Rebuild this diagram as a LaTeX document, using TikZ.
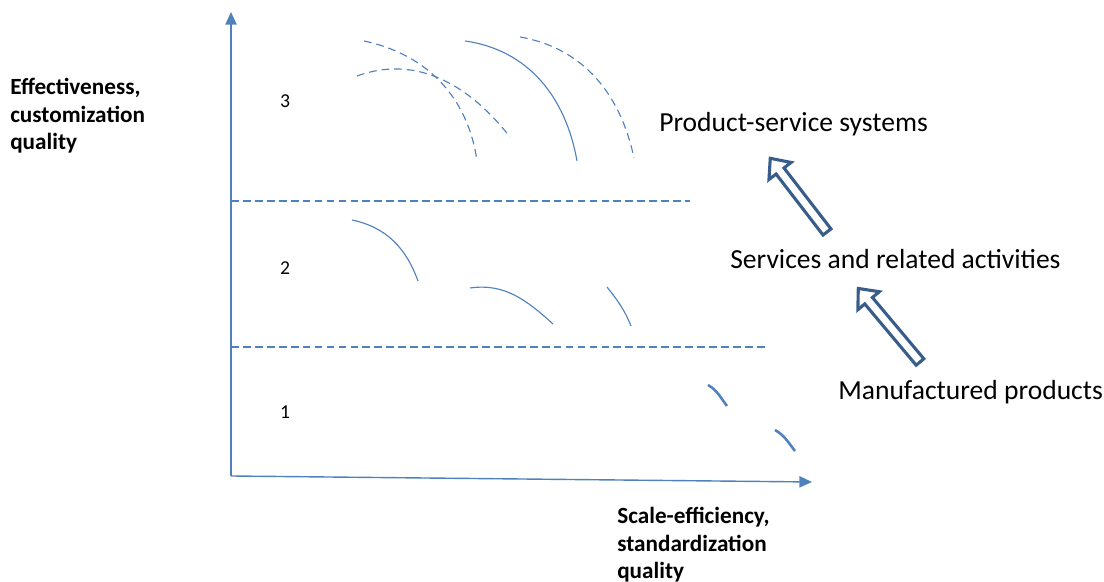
\documentclass[tikz,border=0pt]{standalone}
\usepackage{fontspec}
\setmainfont{Carlito}
\usetikzlibrary{arrows.meta}

\definecolor{lineblue}{RGB}{79,129,189}
\definecolor{arrowblue}{RGB}{56,93,138}

\tikzset{
    axis/.style={line width=1pt, draw=lineblue, -{Triangle[length=9pt,width=8pt]}},
    level/.style={line width=0.9pt, draw=lineblue, dash pattern=on 5.5pt off 3pt},
    curve/.style={line width=0.8pt, draw=lineblue},
    dcurve/.style={curve, dash pattern=on 5.5pt off 3.5pt},
    hollow/.style={line width=2.2pt, draw=arrowblue, fill=white, line join=miter},
    axislabel/.style={font=\bfseries\fontsize{16.5}{19.5}\selectfont, align=left, anchor=west, inner sep=0pt},
    stage/.style={font=\fontsize{19.6}{22}\selectfont, anchor=west, inner sep=0pt},
    levelno/.style={font=\fontsize{14}{16}\selectfont}
}

\begin{document}
\begin{tikzpicture}[x=0.025cm, y=0.025cm]

        \useasboundingbox (0,0) rectangle (1104,582);

        % Axes
        \coordinate (origin) at (231,106);
        \coordinate (ytop) at (231,570);
        \coordinate (xend) at (812,100);
        \draw[axis] (origin) -- (ytop);
        \draw[axis] (origin) -- (xend);

        \node[axislabel] (ylabel) at (10,466) {Effectiveness,\\customization\\quality};
        \node[axislabel] (xlabel) at (617,37) {Scale-efficiency,\\standardization\\quality};

        % Level borders
        \draw[level] (231,381) -- (690,381);
        \draw[level] (231,235) -- (765,235);

        \node[levelno] (lev3) at (285,481) {3};
        \node[levelno] (lev2) at (285,314) {2};
        \node[levelno] (lev1) at (285,170) {1};

        % Level 3 curves
        \draw[dcurve] (364,541) to[out=-12,in=98] (477,421);
        \draw[dcurve] (357,506) to[out=20,in=128] (510,445);
        \draw[curve]  (465,541) to[out=-8,in=100] (577,421);
        \draw[dcurve] (520,545) to[out=-10,in=102] (634,424);

        % Level 2 curves
        \draw[curve] (352,362) to[out=-12,in=110] (418,301);
        \draw[curve] (470,294) to[out=8,in=138] (553,258);
        \draw[curve] (607,295) to[out=-52,in=112] (631,256);

        % Level 1 curves
        \draw[curve, line width=1.8pt] (708,197) to[out=-30,in=128] (727,176);
        \draw[curve, line width=1.8pt] (775,152) to[out=-30,in=128] (795,131);

        % Stages
        \node[stage] (pss) at (659,458) {Product-service systems};
        \node[stage] (serv) at (730,323) {Services and related activities};
        \node[stage] (manu) at (838,190) {Manufactured products};

        % Hollow arrows
        \begin{scope}[shift={(827,350)}, rotate=127.6]
            \draw[hollow] (0,-5) -- (77,-5) -- (77,-14) -- (93,0) -- (77,14) -- (77,5) -- (0,5) -- cycle;
        \end{scope}
        \begin{scope}[shift={(920,220)}, rotate=130]
            \draw[hollow] (0,-5) -- (80,-5) -- (80,-14) -- (96,0) -- (80,14) -- (80,5) -- (0,5) -- cycle;
        \end{scope}

    \end{tikzpicture}
\end{document}
